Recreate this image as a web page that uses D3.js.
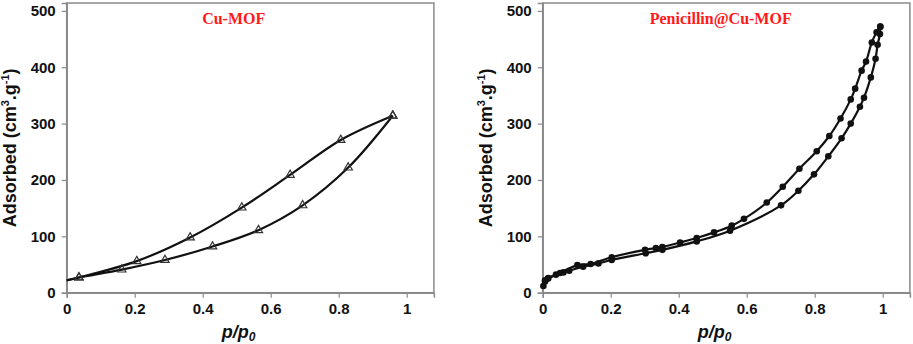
<!DOCTYPE html>
<html>
<head>
<meta charset="utf-8">
<script src="https://cdn.jsdelivr.net/npm/d3@7"></script>
<style>
  body { margin: 0; background: #fff; }
  svg { display: block; }
</style>
</head>
<body>
<div id="chart"></div>
<script>
// Cu-MOF isotherm (triangle markers)
const cuStart = [0, 22];
const cuAdsorption = [[0.036, 27], [0.162, 41], [0.289, 58], [0.429, 82], [0.564, 111], [0.694, 155], [0.828, 222], [0.959, 314]];
const cuDesorption = [[0.036, 27], [0.206, 56], [0.363, 98], [0.515, 151], [0.657, 209], [0.806, 271], [0.959, 314]];

// Penicillin@Cu-MOF isotherm (filled circle markers)
const penAdsorption = [[0.002, 12], [0.007, 20], [0.016, 25], [0.039, 32], [0.061, 36], [0.078, 39], [0.119, 46],
  [0.164, 52], [0.203, 58], [0.303, 70], [0.352, 76], [0.453, 91], [0.551, 110], [0.701, 155], [0.752, 181],
  [0.798, 210], [0.840, 242], [0.879, 274], [0.906, 300], [0.933, 330], [0.945, 346], [0.965, 382], [0.979, 415],
  [0.985, 440], [0.992, 459], [0.993, 472]];
const penDesorption = [[0.993, 472], [0.982, 462], [0.968, 444], [0.951, 410], [0.938, 394], [0.919, 362],
  [0.906, 343], [0.876, 309], [0.843, 278], [0.806, 251], [0.755, 220], [0.706, 188], [0.659, 160], [0.592, 131],
  [0.556, 119], [0.504, 107], [0.453, 97], [0.404, 89], [0.352, 81], [0.333, 79], [0.301, 76], [0.203, 63],
  [0.141, 51], [0.102, 49], [0.051, 35], [0.016, 26], [0.007, 22]];

const xTicks = [0, 0.2, 0.4, 0.6, 0.8, 1];
const yTicks = [0, 100, 200, 300, 400, 500];
const titles = ["Cu-MOF", "Penicillin@Cu-MOF"];

const width = 913, height = 344;
const svg = d3.select("#chart").append("svg")
  .attr("width", width)
  .attr("height", height);

const plotTop = 3, plotBottom = 292.7, unit = 340;
const panels = [
  { x0: 66.7, title: titles[0], titleShift: -3, series: [[cuStart, ...cuAdsorption], [cuStart, ...cuDesorption]], marks: [cuAdsorption, cuDesorption], kind: "tri" },
  { x0: 542.7, title: titles[1], titleShift: 8, series: [penAdsorption, penDesorption], marks: [penAdsorption, penDesorption], kind: "dot" }
];

panels.forEach(p => {
  const x = d3.scaleLinear().domain([0, 1.08]).range([p.x0, p.x0 + unit * 1.08]);
  const y = d3.scaleLinear().domain([0, 514]).range([plotBottom, plotTop]);
  const g = svg.append("g");

  // frame
  g.append("rect")
    .attr("x", x(0)).attr("y", plotTop)
    .attr("width", x(1.08) - x(0)).attr("height", plotBottom - plotTop)
    .attr("fill", "none").attr("stroke", "#8a8a8a").attr("stroke-width", 1.5);

  const xAxis = g.append("g")
    .attr("transform", `translate(0,${plotBottom})`)
    .call(d3.axisBottom(x).tickValues(xTicks).tickSize(5).tickPadding(6).tickFormat(d => d3.format("")(d)));
  const yAxis = g.append("g")
    .attr("transform", `translate(${x(0)},0)`)
    .call(d3.axisLeft(y).tickValues(yTicks).tickSize(5).tickPadding(6));
  [xAxis, yAxis].forEach(a => {
    a.select(".domain").attr("stroke", "#8a8a8a").attr("stroke-width", 1.5);
    a.selectAll(".tick line").attr("stroke", "#8a8a8a").attr("stroke-width", 1.2);
    a.selectAll("text")
      .style("font-family", "'Liberation Sans', Arial, sans-serif")
      .style("font-weight", "bold")
      .style("font-size", "15px")
      .attr("fill", "#111");
  });

  const line = d3.line()
    .x(d => x(d[0])).y(d => y(d[1]))
    .curve(d3.curveCatmullRom.alpha(0.5));

  p.series.forEach(s => {
    g.append("path")
      .attr("d", line(s))
      .attr("fill", "none")
      .attr("stroke", "#111")
      .attr("stroke-width", 2.2);
  });

  p.marks.forEach(s => {
    if (p.kind === "tri") {
      g.selectAll(null).data(s).enter().append("path")
        .attr("d", d3.symbol(d3.symbolTriangle, 30)())
        .attr("transform", d => `translate(${x(d[0])},${y(d[1])})`)
        .attr("fill", "none")
        .attr("stroke", "#333")
        .attr("stroke-width", 1.2);
    } else {
      g.selectAll(null).data(s).enter().append("circle")
        .attr("cx", d => x(d[0])).attr("cy", d => y(d[1]))
        .attr("r", 3.3)
        .attr("fill", "#111");
    }
  });

  // title
  g.append("text")
    .attr("x", x(0.5) + p.titleShift)
    .attr("y", 24)
    .attr("text-anchor", "middle")
    .style("font-family", "'Liberation Serif', 'Times New Roman', serif")
    .style("font-weight", "bold")
    .style("font-size", "16px")
    .attr("fill", "#ff1a1a")
    .text(p.title);

  // y label
  const yl = g.append("text")
    .attr("transform", `translate(${x(0) - 51},${(plotTop + plotBottom) / 2}) rotate(-90)`)
    .attr("text-anchor", "middle")
    .style("font-family", "'Liberation Sans', Arial, sans-serif")
    .style("font-weight", "bold")
    .style("font-size", "18px")
    .attr("fill", "#111");
  yl.append("tspan").text("Adsorbed (cm");
  yl.append("tspan").attr("dy", -7).style("font-size", "11px").text("3");
  yl.append("tspan").attr("dy", 7).text(".g");
  yl.append("tspan").attr("dy", -7).style("font-size", "11px").text("-1");
  yl.append("tspan").attr("dy", 7).text(")");

  // x label
  const xl = g.append("text")
    .attr("x", x(0.5) + 2)
    .attr("y", 338)
    .attr("text-anchor", "middle")
    .style("font-family", "'Liberation Sans', Arial, sans-serif")
    .style("font-weight", "bold")
    .style("font-style", "italic")
    .style("font-size", "18px")
    .attr("fill", "#111");
  xl.append("tspan").text("p/p");
  xl.append("tspan").attr("dy", 3).style("font-size", "12px").text("0");
});
</script>
</body>
</html>
